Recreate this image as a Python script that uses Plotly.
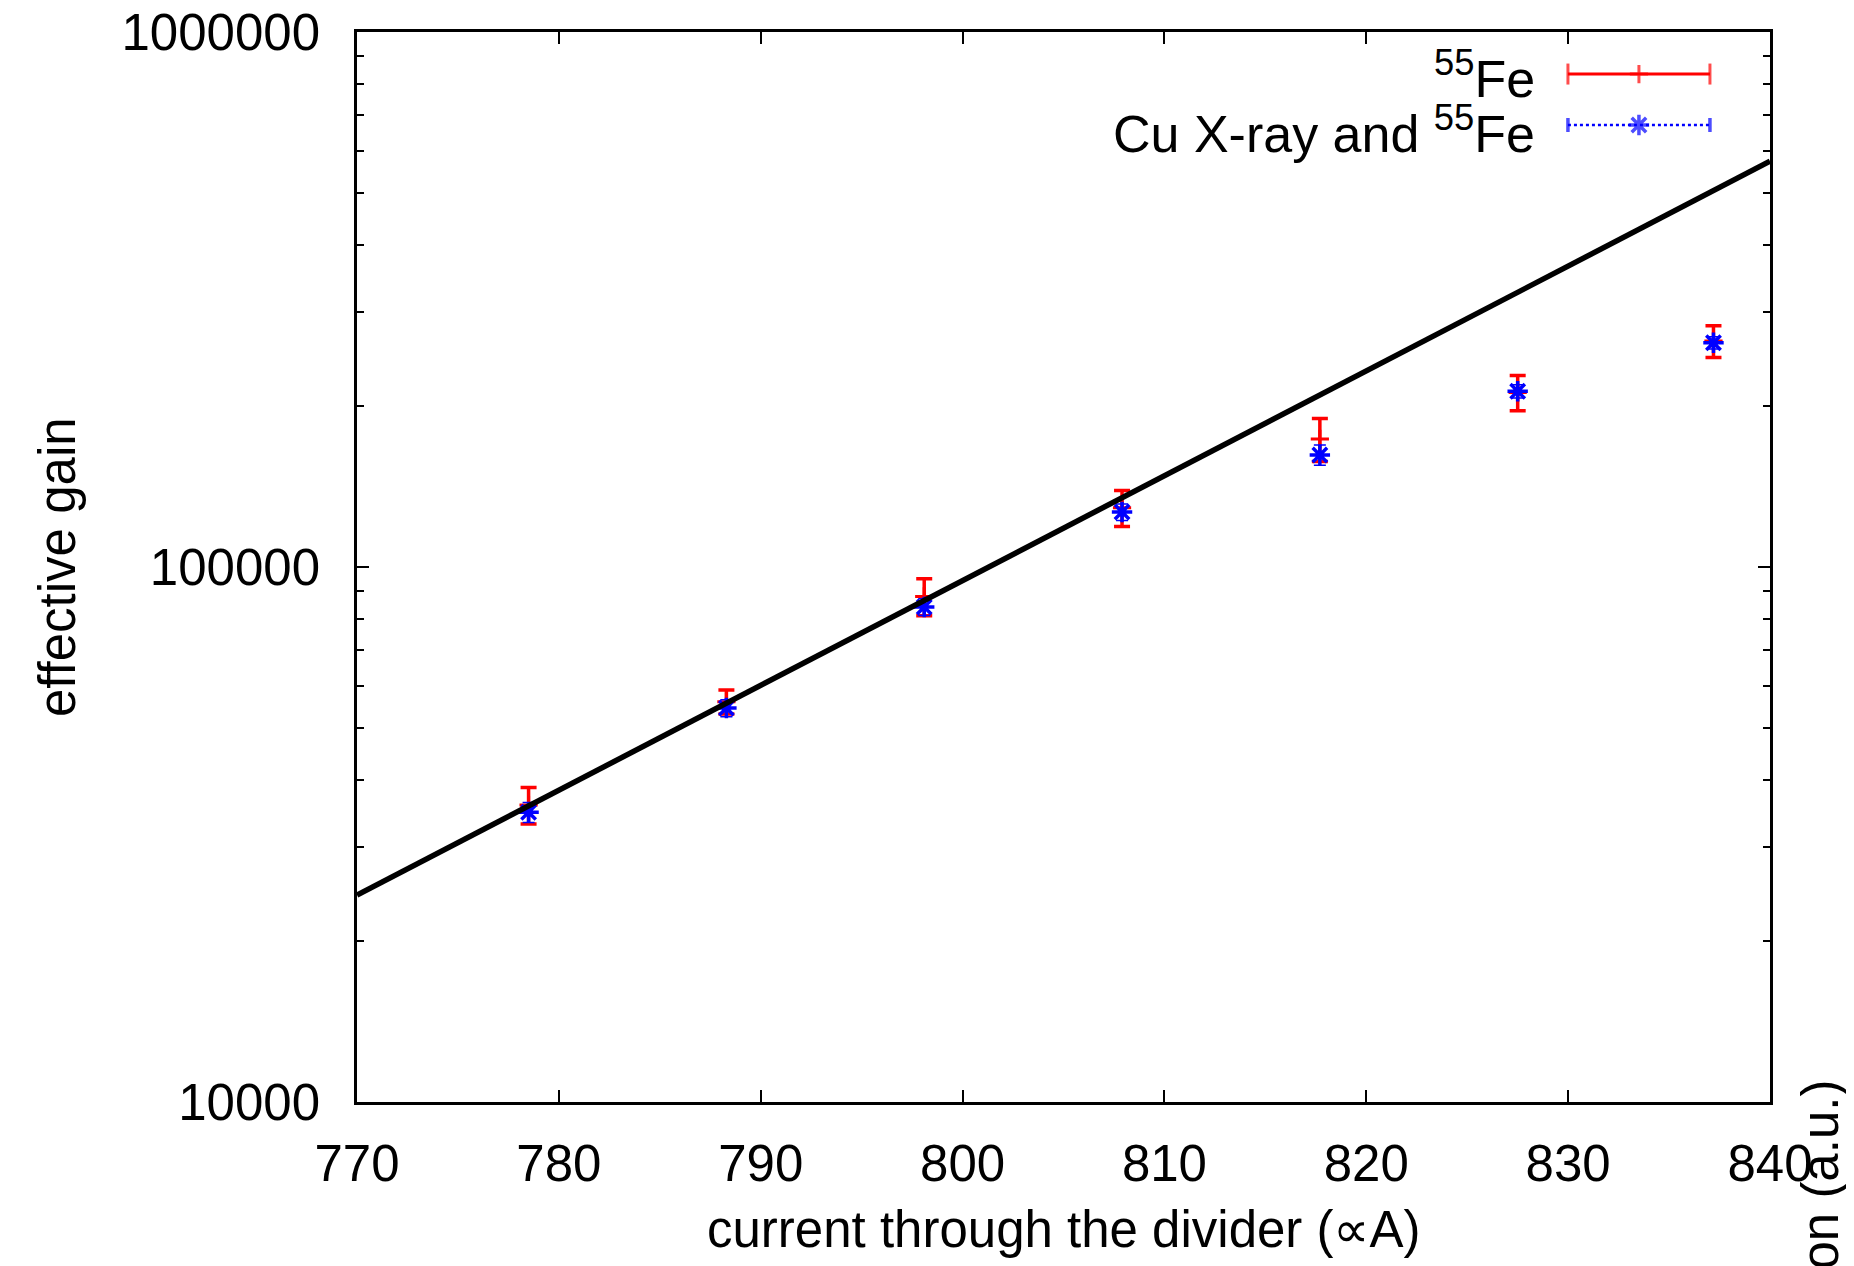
import plotly.graph_objects as go

# ---- data ----
x_cur = [778.5, 788.3, 798.1, 807.9, 817.7, 827.5, 837.2]
fe_gain = [35900, 56000, 88100, 129000, 173500, 212000, 264500]
fe_err = [2800, 2900, 7000, 10000, 16000, 16000, 18000]
cu_gain = [34800, 54500, 84200, 126700, 162000, 213000, 262500]
cu_err = [1500, 2000, 3000, 4500, 7000, 6000, 7000]
fit_x = [770, 840]
fit_y = [24370, 573300]

x_ticks = [770, 780, 790, 800, 810, 820, 830, 840]
y_ticks = [1e4, 1e5, 1e6]
y_ticktext = ["10000", "100000", "1000000"]
y_minor = [m * 10 ** e for e in (4, 5) for m in range(2, 10)]

FONT = "Liberation Sans, Arial, Helvetica, sans-serif"
FS = 51
RED = "#ff0000"
BLUE = "#0000ff"

fig = go.Figure()

fig.add_trace(go.Scatter(
    x=x_cur, y=fe_gain, mode="markers",
    marker=dict(symbol="cross-thin-open", size=13, color=RED, line=dict(color=RED, width=3)),
    error_y=dict(type="data", array=fe_err, color=RED, thickness=3.5, width=8),
    showlegend=False))

fig.add_trace(go.Scatter(
    x=x_cur, y=cu_gain, mode="markers",
    marker=dict(symbol="asterisk-open", size=17, color=BLUE, line=dict(color=BLUE, width=3.5)),
    error_y=dict(type="data", array=cu_err, color=BLUE, thickness=1.5, width=6),
    showlegend=False))

fig.add_trace(go.Scatter(
    x=fit_x, y=fit_y, mode="lines",
    line=dict(color="black", width=5.5),
    showlegend=False))

# ---- legend (drawn by hand, gnuplot style) ----
lx0, lx1 = 0.857, 0.9575
lxm = (lx0 + lx1) / 2
ly_red, ly_blue = 0.9607, 0.9131
fig.add_trace(go.Scatter(
    x=[lx0, lxm, lx1], y=[ly_red] * 3, xaxis="x2", yaxis="y2", mode="lines+markers",
    line=dict(color=RED, width=3),
    marker=dict(symbol=["line-ns-open", "cross-thin-open", "line-ns-open"], size=[15, 13, 15],
                color=RED, line=dict(color=RED, width=3)),
    showlegend=False, hoverinfo="skip"))
fig.add_trace(go.Scatter(
    x=[lx0, lxm, lx1], y=[ly_blue] * 3, xaxis="x2", yaxis="y2", mode="lines+markers",
    line=dict(color=BLUE, width=2.5, dash="dot"),
    marker=dict(symbol=["line-ns-open", "asterisk-open", "line-ns-open"], size=[10, 17, 10],
                color=BLUE, line=dict(color=BLUE, width=3.5)),
    showlegend=False, hoverinfo="skip"))

ann = [
    dict(text="<sup>55</sup>Fe", x=0.8351, y=ly_red, yshift=-1, xref="paper", yref="paper",
         xanchor="right", yanchor="middle", showarrow=False, font=dict(size=FS + 1)),
    dict(text="Cu X-ray and <sup>55</sup>Fe", x=0.8351, y=ly_blue, yshift=-5, xref="paper", yref="paper",
         xanchor="right", yanchor="middle", showarrow=False, font=dict(size=FS + 1)),
    dict(text="effective gain", x=-0.2123, y=0.5, xref="paper", yref="paper", textangle=-90,
         xanchor="center", yanchor="middle", showarrow=False, font=dict(size=FS)),
    dict(text="current through the divider (∝A)", x=0.5, y=-0.1196, xref="paper", yref="paper",
         xanchor="center", yanchor="middle", showarrow=False, font=dict(size=FS)),
    dict(text="energy resolution (a.u.)", x=1.0354, y=0.0, yshift=24,
         xref="paper", yref="paper", textangle=-90,
         xanchor="center", yanchor="top", showarrow=False, font=dict(size=FS)),
]

fig.update_layout(
    width=1854, height=1266,
    margin=dict(l=349, r=92, t=24, b=172, autoexpand=False),
    paper_bgcolor="white", plot_bgcolor="white",
    font=dict(family=FONT, size=FS, color="black"),
    annotations=ann,
    xaxis=dict(range=[770, 840], tickvals=x_ticks, ticks="inside", ticklen=12, tickwidth=2,
               tickcolor="black", showline=True, linecolor="black", linewidth=2.5, mirror="allticks",
               showgrid=False, zeroline=False, ticklabelstandoff=15, tickfont=dict(size=FS),
               ticklabeloverflow="allow"),
    yaxis=dict(type="log", range=[4, 6], tickvals=y_ticks, ticktext=y_ticktext, ticks="inside",
               ticklen=12, tickwidth=2, tickcolor="black", showline=True, linecolor="black",
               linewidth=2.5, mirror="allticks", showgrid=False, zeroline=False,
               ticklabelstandoff=24, tickfont=dict(size=FS), ticklabeloverflow="allow",
               minor=dict(tickvals=y_minor, ticks="inside", ticklen=7, tickwidth=2,
                          tickcolor="black", showgrid=False)),
    xaxis2=dict(range=[0, 1], overlaying="x", visible=False, fixedrange=True),
    yaxis2=dict(range=[0, 1], overlaying="y", visible=False, fixedrange=True),
)

fig.write_html("out.html")
